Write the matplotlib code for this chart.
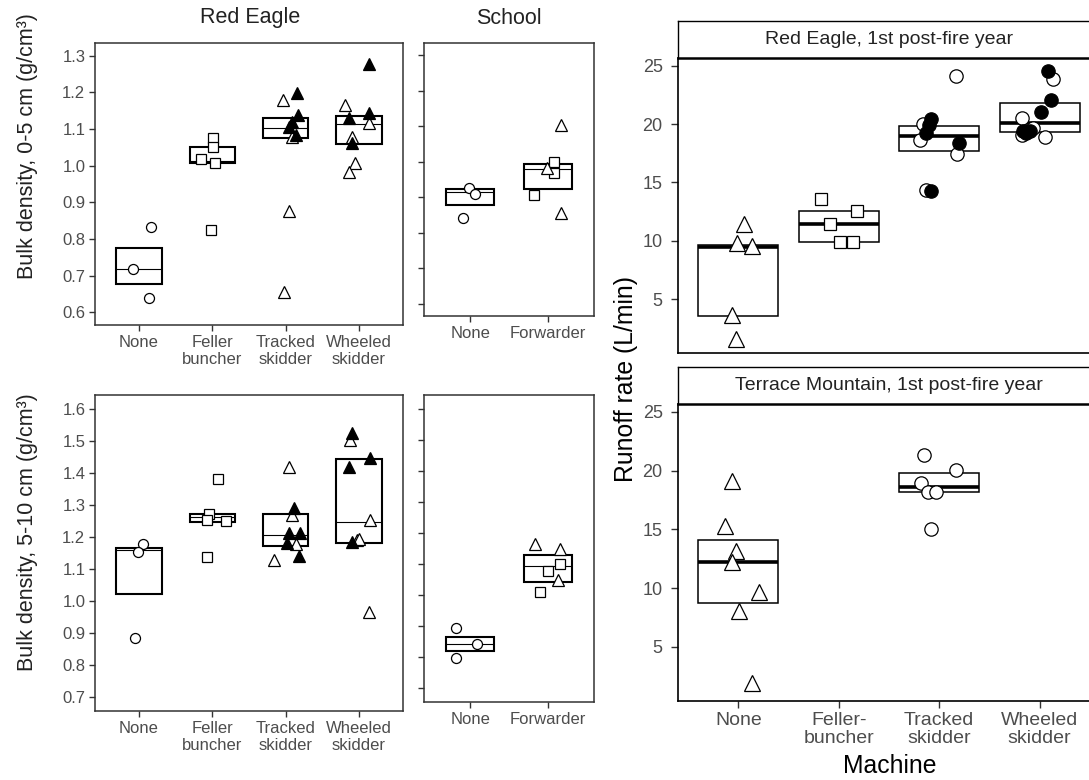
import matplotlib.pyplot as plt
import numpy as np

plt.rcParams['font.family'] = ['Liberation Sans', 'DejaVu Sans']

# ---- 数据 ----
re_machines = ['None', 'Feller\nbuncher', 'Tracked\nskidder', 'Wheeled\nskidder']
school_machines = ['None', 'Forwarder']
runoff_machines = ['None', 'Feller-\nbuncher', 'Tracked\nskidder', 'Wheeled\nskidder']

# Red Eagle, 0-5 cm
re05_low = [0.676, 1.006, 1.075, 1.059]
re05_mid = [0.717, 1.012, 1.104, 1.115]
re05_high = [0.776, 1.052, 1.129, 1.135]
re05_pos = [1, 1, 1, 2, 2, 2, 2, 2, 3, 3, 3, 3, 3, 3, 3, 3, 3, 4, 4, 4, 4, 4, 4, 4, 4, 4]
re05_val = [0.717, 0.833, 0.640,
            1.075, 1.052, 1.017, 1.006, 0.825,
            1.179, 1.079, 0.875, 0.656, 1.198, 1.138, 1.120, 1.107, 1.084,
            1.166, 1.116, 1.078, 1.007, 0.984, 1.279, 1.129, 1.143, 1.061]
re05_jit = [-0.08, 0.17, 0.14,
            0.01, 0.01, -0.16, 0.03, -0.02,
            -0.03, 0.09, 0.05, -0.02, 0.16, 0.17, 0.09, 0.05, 0.14,
            -0.19, 0.13, -0.10, -0.05, -0.14, 0.13, -0.13, 0.13, -0.09]
re05_shape = ['o'] * 3 + ['s'] * 5 + ['^'] * 18
re05_fill = [0] * 8 + [0, 0, 0, 0, 1, 1, 1, 1, 1] + [0, 0, 0, 0, 0, 1, 1, 1, 1]

# Red Eagle, 5-10 cm
re10_low = [1.021, 1.248, 1.172, 1.180]
re10_mid = [1.160, 1.262, 1.206, 1.246]
re10_high = [1.166, 1.271, 1.271, 1.443]
re10_pos = re05_pos
re10_val = [1.177, 1.154, 0.885,
            1.271, 1.253, 1.250, 1.381, 1.139,
            1.420, 1.269, 1.178, 1.128, 1.290, 1.212, 1.212, 1.180, 1.141,
            1.504, 1.253, 1.191, 1.195, 0.966, 1.525, 1.447, 1.420, 1.185]
re10_jit = [0.05, -0.02, -0.05,
            -0.05, -0.07, 0.19, 0.08, -0.07,
            0.05, 0.09, 0.14, -0.16, 0.11, 0.05, 0.19, 0.02, 0.18,
            -0.12, 0.15, -0.03, 0.00, 0.13, -0.10, 0.15, -0.13, -0.10]
re10_shape = re05_shape
re10_fill = re05_fill

# School, 0-5 cm
sc05_low = [0.877, 0.922]
sc05_mid = [0.915, 0.980]
sc05_high = [0.922, 0.995]
sc05_pos = [1, 1, 1, 2, 2, 2, 2, 2, 2]
sc05_val = [0.927, 0.909, 0.841, 1.000, 0.968, 0.906, 0.982, 1.104, 0.856]
sc05_jit = [-0.02, 0.06, -0.09, 0.08, 0.08, -0.18, -0.01, 0.17, 0.17]
sc05_shape = ['o', 'o', 'o', 's', 's', 's', '^', '^', '^']

# School, 5-10 cm
sc10_low = [0.819, 1.041]
sc10_mid = [0.842, 1.092]
sc10_high = [0.866, 1.130]
sc10_pos = sc05_pos
sc10_val = [0.893, 0.798, 0.842, 1.100, 1.076, 1.010, 1.165, 1.147, 1.050]
sc10_jit = [-0.18, -0.18, 0.09, 0.16, 0.00, -0.10, -0.16, 0.16, 0.14]
sc10_shape = sc05_shape

# 径流速率 Red Eagle
rr_low = [3.55, 9.94, 17.70, 19.35]
rr_mid = [9.50, 11.45, 18.98, 20.06]
rr_high = [9.62, 12.56, 19.86, 21.78]
rr_pos = [1] * 5 + [2] * 5 + [3] * 10 + [4] * 11
rr_val = [11.45, 9.79, 9.56, 3.66, 1.58,
          13.59, 11.45, 12.56, 9.88, 9.88,
          24.12, 19.98, 18.64, 17.44, 14.36, 20.41, 19.92, 19.21, 18.35, 14.30,
          23.86, 20.49, 19.07, 18.92, 19.64, 24.54, 22.06, 21.06, 19.41, 19.41, 19.27]
rr_jit = [0.06, -0.01, 0.14, -0.06, -0.02,
          -0.18, -0.09, 0.18, 0.01, 0.14,
          0.17, -0.16, -0.19, 0.18, -0.13, -0.08, -0.10, -0.13, 0.20, -0.08,
          0.13, -0.18, -0.18, 0.05, -0.07, 0.08, 0.11, 0.01, -0.17, -0.10, -0.14]
rr_shape = ['^'] * 5 + ['s'] * 5 + ['o'] * 21
rr_fill = [0] * 10 + [0] * 5 + [1] * 5 + [0] * 5 + [1] * 6

# 径流速率 Terrace Mountain
tm_low = [8.77, np.nan, 18.20, np.nan]
tm_mid = [12.26, np.nan, 18.63, np.nan]
tm_high = [14.11, np.nan, 19.77, np.nan]
tm_pos = [1] * 7 + [3] * 6
tm_val = [19.14, 15.26, 13.20, 12.20, 9.63, 8.06, 1.91,
          21.34, 20.06, 18.97, 18.20, 18.14, 15.06]
tm_jit = [-0.06, -0.13, -0.02, -0.06, 0.21, 0.01, 0.14,
          -0.15, 0.17, -0.18, -0.11, -0.03, -0.08]
tm_shape = ['^'] * 7 + ['o'] * 6

# ---- 画布 ----
W, H = 1089, 780
fig = plt.figure(figsize=(W / 100, H / 100), dpi=100)


def px_axes(x0, y0, x1, y1):
    return fig.add_axes([x0 / W, 1 - y1 / H, (x1 - x0) / W, (y1 - y0) / H])


def crossbars(ax, low, mid, high, width, lw, mlw):
    for i, (lo, md, hi) in enumerate(zip(low, mid, high)):
        if np.isnan(lo):
            continue
        ax.bar(i + 1, hi - lo, bottom=lo, width=width, fill=False,
               edgecolor='black', linewidth=lw, zorder=2)
        ax.hlines(md, i + 1 - width / 2, i + 1 + width / 2, color='black',
                  linewidth=mlw, zorder=2)


def points(ax, pos, jit, val, shape, fill, sizes):
    for p, j, v, s, f in zip(pos, jit, val, shape, fill):
        ax.plot(p + j, v, marker=s, ms=sizes[s], mfc='black' if f else 'white',
                mec='black', mew=0.9, ls='none', zorder=3)


left_sizes = {'o': 7.2, 's': 6.5, '^': 8.2}
right_sizes = {'o': 9.6, 's': 8.4, '^': 12}


def style_left(ax, ylim, yticks, labels, show_y):
    ax.set_xlim(0.4, len(labels) + 0.6)
    ax.set_ylim(ylim)
    ax.set_xticks(range(1, len(labels) + 1))
    ax.set_xticklabels(labels, linespacing=1.15)
    ax.set_yticks(yticks)
    if show_y:
        ax.set_yticklabels([f'{t:.1f}' for t in yticks])
    else:
        ax.set_yticklabels([])
    for sp in ax.spines.values():
        sp.set_color('#333333')
        sp.set_linewidth(1.1)
    ax.tick_params(direction='out', length=4, width=1, color='#333333',
                   labelsize=12, labelcolor='#4d4d4d', pad=3)


# 左上 Red Eagle 0-5
ax1 = px_axes(95, 43, 403, 325)
crossbars(ax1, re05_low, re05_mid, re05_high, 0.62, 1.5, 0.8)
points(ax1, re05_pos, re05_jit, re05_val, re05_shape, re05_fill, left_sizes)
style_left(ax1, (0.565, 1.335), np.arange(0.6, 1.31, 0.1), re_machines, True)

# School 0-5
ax2 = px_axes(424, 43, 594, 316)
crossbars(ax2, sc05_low, sc05_mid, sc05_high, 0.62, 1.5, 0.8)
points(ax2, sc05_pos, sc05_jit, sc05_val, sc05_shape, [0] * 9, left_sizes)
style_left(ax2, (0.565, 1.335), np.arange(0.6, 1.31, 0.1), school_machines, False)

# 左下 Red Eagle 5-10
ax3 = px_axes(95, 395, 403, 711)
crossbars(ax3, re10_low, re10_mid, re10_high, 0.62, 1.5, 0.8)
points(ax3, re10_pos, re10_jit, re10_val, re10_shape, re10_fill, left_sizes)
style_left(ax3, (0.655, 1.645), np.arange(0.7, 1.61, 0.1), re_machines, True)

# School 5-10
ax4 = px_axes(424, 395, 594, 702)
crossbars(ax4, sc10_low, sc10_mid, sc10_high, 0.62, 1.5, 0.8)
points(ax4, sc10_pos, sc10_jit, sc10_val, sc10_shape, [0] * 9, left_sizes)
style_left(ax4, (0.655, 1.645), np.arange(0.7, 1.61, 0.1), school_machines, False)

fig.text(250 / W, 1 - 18 / H, 'Red Eagle', ha='center', va='center', fontsize=15.5, color='#222222')
fig.text(509 / W, 1 - 18 / H, 'School', ha='center', va='center', fontsize=15.5, color='#222222')
fig.text(28 / W, 1 - 146 / H, 'Bulk density, 0-5 cm (g/cm³)', rotation=90,
         ha='center', va='center', fontsize=15.5, color='#222222')
fig.text(28 / W, 1 - 532 / H, 'Bulk density, 5-10 cm (g/cm³)', rotation=90,
         ha='center', va='center', fontsize=15.5, color='#222222')


# ---- 右侧径流面板 ----
def style_right(ax, show_x):
    ax.set_xlim(0.4, 4.6)
    ax.set_ylim(0.4, 25.66)
    ax.set_xticks(range(1, 5))
    ax.set_xticklabels(runoff_machines if show_x else [], linespacing=1.1)
    ax.set_yticks([5, 10, 15, 20, 25])
    ax.spines['right'].set_visible(False)
    ax.spines['top'].set_visible(False)
    for sp in ['left', 'bottom']:
        ax.spines[sp].set_color('black')
        ax.spines[sp].set_linewidth(1.2)
    ax.tick_params(direction='out', length=5, width=1, color='#333333',
                   labelcolor='#4d4d4d', pad=6)
    ax.tick_params(axis='y', labelsize=13)
    ax.tick_params(axis='x', labelsize=14, pad=3, length=5 if show_x else 0)


def strip(y0, y1, title):
    s = px_axes(678, y0, 1100, y1)
    s.set_xticks([])
    s.set_yticks([])
    for sp in s.spines.values():
        sp.set_color('black')
        sp.set_linewidth(1.0)
    s.spines['bottom'].set_linewidth(1.8)
    s.text(0.5, 0.5, title, transform=s.transAxes, ha='center', va='center',
           fontsize=14, color='#222222')


ax5 = px_axes(678, 58, 1100, 353)
crossbars(ax5, rr_low, rr_mid, rr_high, 0.8, 1.1, 2.6)
points(ax5, rr_pos, rr_jit, rr_val, rr_shape, rr_fill, right_sizes)
style_right(ax5, False)
strip(21, 58, 'Red Eagle, 1st post-fire year')

ax6 = px_axes(678, 404, 1100, 701)
crossbars(ax6, tm_low, tm_mid, tm_high, 0.8, 1.1, 2.6)
points(ax6, tm_pos, tm_jit, tm_val, tm_shape, [0] * 13, right_sizes)
style_right(ax6, True)
strip(367, 404, 'Terrace Mountain, 1st post-fire year')

fig.text(626 / W, 1 - 379 / H, 'Runoff rate (L/min)', rotation=90,
         ha='center', va='center', fontsize=17.8, color='black')
fig.text(890 / W, 1 - 766 / H, 'Machine', ha='center', va='center',
         fontsize=17.8, color='black')

plt.savefig('out.png', dpi=100)
